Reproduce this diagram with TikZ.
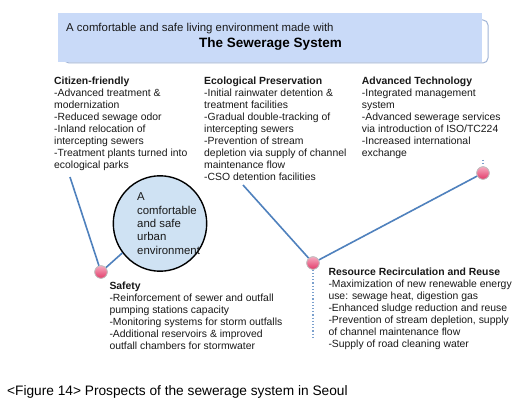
\documentclass[tikz,border=0pt]{standalone}
\usepackage{fontspec}
\setmainfont{Liberation Sans}
\usetikzlibrary{shapes.geometric}
\definecolor{boxblue}{RGB}{201,218,248}
\definecolor{boxedge}{RGB}{160,180,215}
\definecolor{ellblue}{RGB}{207,226,243}
\definecolor{linkblue}{RGB}{79,129,189}
\definecolor{pinkA}{RGB}{246,170,192}
\definecolor{pinkB}{RGB}{226,60,105}
\definecolor{bodytext}{RGB}{25,25,25}
\begin{document}
\begin{tikzpicture}[x=1pt,y=-1pt,
  body/.style={anchor=north west, inner sep=0, align=left, font=\fontsize{10.4}{12}\selectfont, text=bodytext},
  link/.style={draw=linkblue, line width=1.6},
  dotlink/.style={draw=linkblue!75, line width=1.2, dotted},
  marker/.style={circle, minimum size=12.5, inner sep=0, draw=black!25, line width=0.7, top color=pinkA, bottom color=pinkB}]
\useasboundingbox[fill=white] (0,0) rectangle (523,404);

% title box
\draw[boxedge, line width=1, fill=white, rounded corners=5] (64,20) rectangle (488,63);
\fill[boxblue] (58,13) rectangle (482,62);
\node[anchor=base west, inner sep=0, font=\fontsize{11.4}{13}\selectfont, text=bodytext] (sub) at (66,32) {A comfortable and safe living environment made with};
\node[anchor=base, inner sep=0, font=\fontsize{13.5}{15}\selectfont\bfseries, text=black] (title) at (270.5,48) {The Sewerage System};

% text blocks
\node[body] (citizen) at (54,76.3) {\strut\textbf{Citizen-friendly}\\-Advanced treatment \&\\modernization\\-Reduced sewage odor\\-Inland relocation of\\intercepting sewers\\-Treatment plants turned into\\ecological parks};
\node[body] (eco) at (204,76.3) {\strut\textbf{Ecological Preservation}\\-Initial rainwater detention \&\\treatment facilities\\-Gradual double-tracking of\\intercepting sewers\\-Prevention of stream\\depletion via supply of channel\\maintenance flow\\-CSO detention facilities};
\node[body] (tech) at (361.7,76.3) {\strut\textbf{Advanced Technology}\\-Integrated management\\system\\-Advanced sewerage services\\via introduction of ISO/TC224\\-Increased international\\exchange};
\node[body] (safety) at (109.3,280.6) {\strut\textbf{Safety}\\-Reinforcement of sewer and outfall\\pumping stations capacity\\-Monitoring systems for storm outfalls\\-Additional reservoirs \& improved\\outfall chambers for stormwater};
\node[body] (resource) at (328.3,266.6) {\strut\textbf{Resource Recirculation and Reuse}\\-Maximization of new renewable energy\\use: sewage heat, digestion gas\\-Enhanced sludge reduction and reuse\\-Prevention of stream depletion, supply\\of channel maintenance flow\\-Supply of road cleaning water};

% ellipse
\node[ellipse, draw=black, line width=1.4, fill=ellblue, minimum width=93.4, minimum height=95.4, inner sep=0] (ell) at (160,223.5) {};
\node[anchor=north west, inner sep=0, align=left, font=\fontsize{11.4}{13.3}\selectfont, text=bodytext] (elltext) at (137,191.4) {\strut A\\comfortable\\and safe\\urban\\environment};

% connector ends
\coordinate (c1) at (70,177);
\coordinate (c3) at (243,185);
\coordinate (d2) at (313,337);
\coordinate (d3) at (483,160);

% markers
\node[marker] (m1) at (101,272) {};
\node[marker] (m2) at (313,263) {};
\node[marker] (m3) at (483,173) {};

% connectors
\draw[link] (c1) -- (m1);
\draw[link] (m1) -- (ell.218);
\draw[link] (c3) -- (m2);
\draw[link] (m2) -- (m3);
\draw[dotlink] (m2) -- (d2);
\draw[dotlink] (d3) -- (m3);

% redraw markers on top
\node[marker] at (m1) {};
\node[marker] at (m2) {};
\node[marker] at (m3) {};

% caption
\node[anchor=base west, inner sep=0, font=\fontsize{13.7}{15}\selectfont, text=black] (caption) at (7,395) {<Figure 14> Prospects of the sewerage system in Seoul};
\end{tikzpicture}
\end{document}
